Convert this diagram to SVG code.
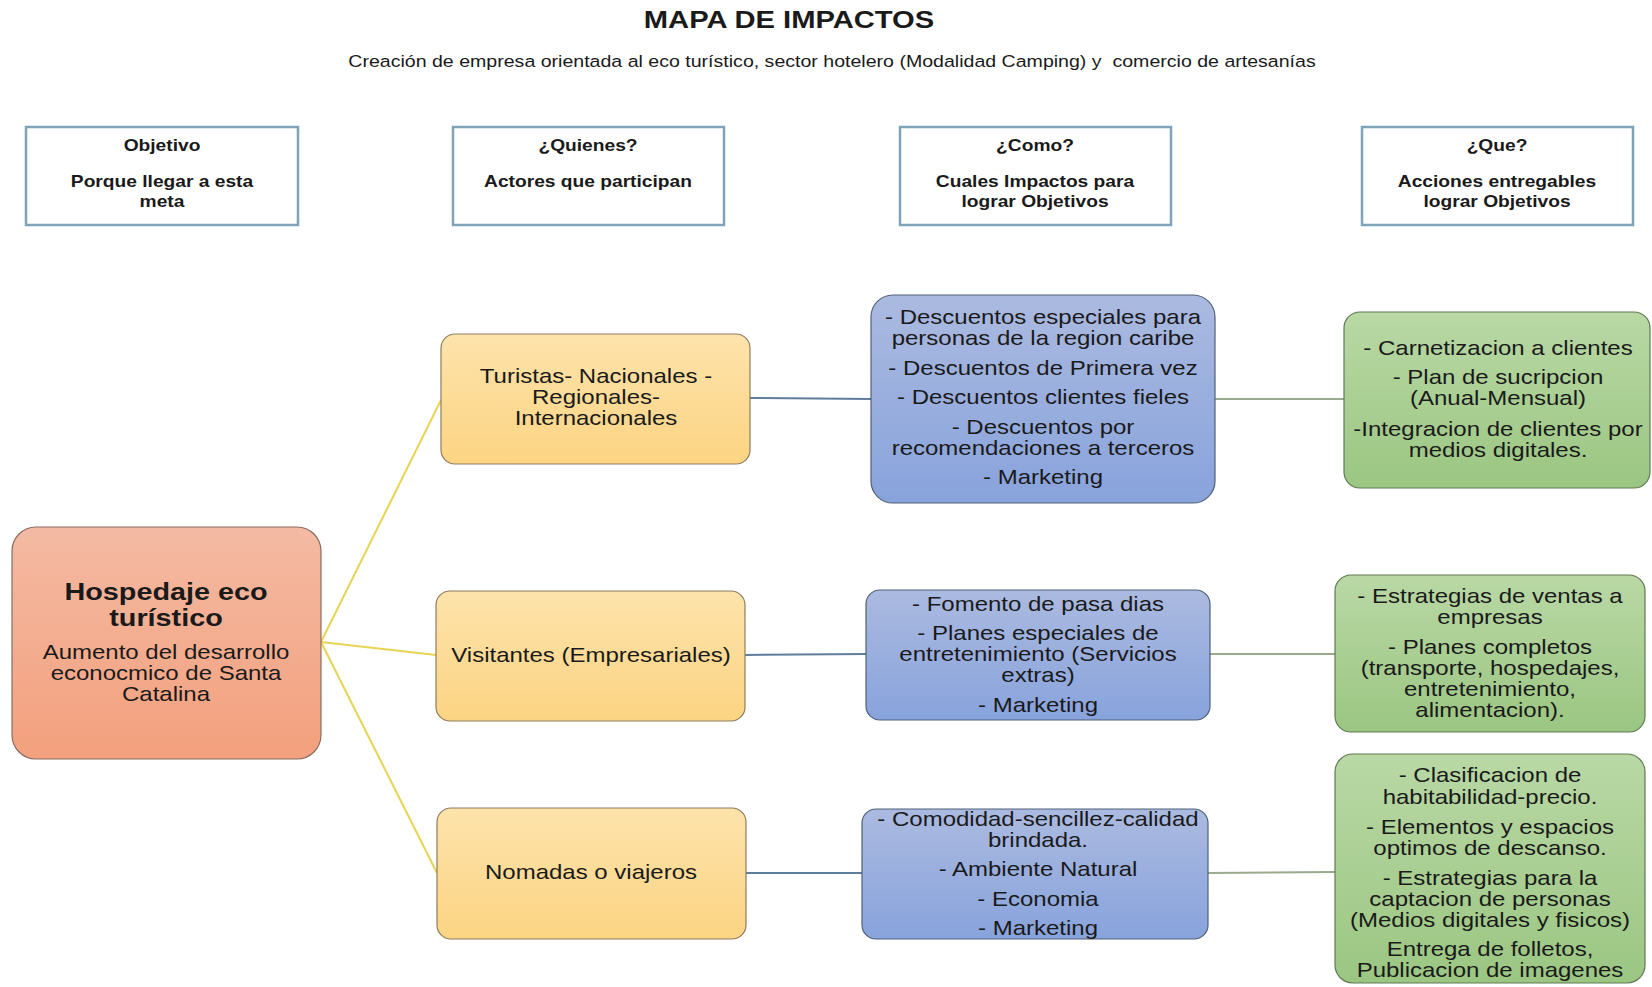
<svg xmlns="http://www.w3.org/2000/svg" width="1652" height="987" viewBox="0 0 1652 987">
<defs>
<linearGradient id="gSalmon" x1="0" y1="0" x2="0" y2="1"><stop offset="0" stop-color="#f4baa3"/><stop offset="1" stop-color="#f3a07d"/></linearGradient>
<linearGradient id="gYellow" x1="0" y1="0" x2="0" y2="1"><stop offset="0" stop-color="#fde3ab"/><stop offset="1" stop-color="#fcd483"/></linearGradient>
<linearGradient id="gBlue" x1="0" y1="0" x2="0" y2="1"><stop offset="0" stop-color="#abbae0"/><stop offset="1" stop-color="#88a3dc"/></linearGradient>
<linearGradient id="gGreen" x1="0" y1="0" x2="0" y2="1"><stop offset="0" stop-color="#b9d8a5"/><stop offset="1" stop-color="#9bc682"/></linearGradient>
<style>
text{font-family:"Liberation Sans",Arial,sans-serif;fill:#1a1a1a;text-anchor:middle}
.title{font-size:24.3px;font-weight:bold}
.sub{font-size:16.3px;white-space:pre}
.hdr{font-size:16px;font-weight:bold}
.t{font-size:20px}
.tb{font-size:24px;font-weight:bold}
.hbox{fill:#fff;stroke:#7ea3b8;stroke-width:2.5}
.salmon{fill:url(#gSalmon);stroke:#8a6d62;stroke-width:1.2}
.yellow{fill:url(#gYellow);stroke:#8c7d5e;stroke-width:1.2}
.blue{fill:url(#gBlue);stroke:#4f6179;stroke-width:1.2}
.green{fill:url(#gGreen);stroke:#5f7a53;stroke-width:1.2}
.cy{stroke:#e6d452;stroke-width:2;fill:none}
.cb{stroke:#5f7d9c;stroke-width:2;fill:none}
.cg{stroke:#9aab8d;stroke-width:2;fill:none}
</style>
</defs>
<rect width="1652" height="987" fill="#ffffff"/>

<g id="title">
<g transform="translate(789 0) scale(1.2 1)"><text class="title" x="0" y="28">MAPA DE IMPACTOS</text></g>
<g transform="translate(832 0) scale(1.2 1)"><text class="sub" x="0" y="67" xml:space="preserve">Creación de empresa orientada al eco turístico, sector hotelero (Modalidad Camping) y  comercio de artesanías</text></g>
</g>

<g id="hdr-objetivo">
<rect class="hbox" x="26" y="127" width="272" height="98"/>
<g transform="translate(162 0) scale(1.2 1)"><text class="hdr" x="0" y="151">Objetivo</text><text class="hdr" x="0" y="187">Porque llegar a esta</text><text class="hdr" x="0" y="207">meta</text></g>
</g>
<g id="hdr-quienes">
<rect class="hbox" x="453" y="127" width="271" height="98"/>
<g transform="translate(588 0) scale(1.2 1)"><text class="hdr" x="0" y="151">¿Quienes?</text><text class="hdr" x="0" y="187">Actores que participan</text></g>
</g>
<g id="hdr-como">
<rect class="hbox" x="900" y="127" width="271" height="98"/>
<g transform="translate(1035 0) scale(1.2 1)"><text class="hdr" x="0" y="151">¿Como?</text><text class="hdr" x="0" y="187">Cuales Impactos para</text><text class="hdr" x="0" y="207">lograr Objetivos</text></g>
</g>
<g id="hdr-que">
<rect class="hbox" x="1362" y="127" width="271" height="98"/>
<g transform="translate(1497 0) scale(1.2 1)"><text class="hdr" x="0" y="151">¿Que?</text><text class="hdr" x="0" y="187">Acciones entregables</text><text class="hdr" x="0" y="207">lograr Objetivos</text></g>
</g>

<g id="connectors">
<line class="cy" x1="321" y1="642" x2="441" y2="400"/>
<line class="cy" x1="321" y1="642" x2="436" y2="655"/>
<line class="cy" x1="321" y1="642" x2="437" y2="873"/>
<line class="cb" x1="750" y1="398" x2="871" y2="399"/>
<line class="cb" x1="745" y1="655" x2="866" y2="654"/>
<line class="cb" x1="746" y1="873" x2="862" y2="873"/>
<line class="cg" x1="1215" y1="399" x2="1344" y2="399"/>
<line class="cg" x1="1210" y1="654" x2="1335" y2="654"/>
<line class="cg" x1="1208" y1="873" x2="1335" y2="872"/>
</g>

<g id="hospedaje">
<rect class="salmon" x="12" y="527" width="309" height="232" rx="24"/>
<g transform="translate(166 0) scale(1.2 1)">
<text class="tb" x="0" y="600">Hospedaje eco</text>
<text class="tb" x="0" y="626">turístico</text>
<text class="t" x="0" y="659">Aumento del desarrollo</text>
<text class="t" x="0" y="680">econocmico de Santa</text>
<text class="t" x="0" y="701">Catalina</text>
</g>
</g>

<g id="turistas">
<rect class="yellow" x="441" y="334" width="309" height="130" rx="14"/>
<g transform="translate(596 0) scale(1.2 1)">
<text class="t" x="0" y="383">Turistas- Nacionales -</text>
<text class="t" x="0" y="404">Regionales-</text>
<text class="t" x="0" y="425">Internacionales</text>
</g>
</g>
<g id="visitantes">
<rect class="yellow" x="436" y="591" width="309" height="130" rx="14"/>
<g transform="translate(591 0) scale(1.2 1)"><text class="t" x="0" y="662">Visitantes (Empresariales)</text></g>
</g>
<g id="nomadas">
<rect class="yellow" x="437" y="808" width="309" height="131" rx="14"/>
<g transform="translate(591 0) scale(1.2 1)"><text class="t" x="0" y="879">Nomadas o viajeros</text></g>
</g>

<g id="como-1">
<rect class="blue" x="871" y="295" width="344" height="208" rx="22"/>
<g transform="translate(1043 0) scale(1.2 1)">
<text class="t" x="0" y="324">- Descuentos especiales para</text>
<text class="t" x="0" y="345">personas de la region caribe</text>
<text class="t" x="0" y="375">- Descuentos de Primera vez</text>
<text class="t" x="0" y="404">- Descuentos clientes fieles</text>
<text class="t" x="0" y="434">- Descuentos por</text>
<text class="t" x="0" y="455">recomendaciones a terceros</text>
<text class="t" x="0" y="484">- Marketing</text>
</g>
</g>
<g id="como-2">
<rect class="blue" x="866" y="590" width="344" height="130" rx="14"/>
<g transform="translate(1038 0) scale(1.2 1)">
<text class="t" x="0" y="611">- Fomento de pasa dias</text>
<text class="t" x="0" y="640">- Planes especiales de</text>
<text class="t" x="0" y="661">entretenimiento (Servicios</text>
<text class="t" x="0" y="682">extras)</text>
<text class="t" x="0" y="712">- Marketing</text>
</g>
</g>
<g id="como-3">
<rect class="blue" x="862" y="809" width="346" height="130" rx="14"/>
<g transform="translate(1038 0) scale(1.2 1)">
<text class="t" x="0" y="826">- Comodidad-sencillez-calidad</text>
<text class="t" x="0" y="847">brindada.</text>
<text class="t" x="0" y="876">- Ambiente Natural</text>
<text class="t" x="0" y="906">- Economia</text>
<text class="t" x="0" y="935">- Marketing</text>
</g>
</g>

<g id="que-1">
<rect class="green" x="1344" y="312" width="306" height="176" rx="16"/>
<g transform="translate(1498 0) scale(1.2 1)">
<text class="t" x="0" y="355">- Carnetizacion a clientes</text>
<text class="t" x="0" y="384">- Plan de sucripcion</text>
<text class="t" x="0" y="405">(Anual-Mensual)</text>
<text class="t" x="0" y="436">-Integracion de clientes por</text>
<text class="t" x="0" y="457">medios digitales.</text>
</g>
</g>
<g id="que-2">
<rect class="green" x="1335" y="575" width="310" height="157" rx="16"/>
<g transform="translate(1490 0) scale(1.2 1)">
<text class="t" x="0" y="603">- Estrategias de ventas a</text>
<text class="t" x="0" y="624">empresas</text>
<text class="t" x="0" y="654">- Planes completos</text>
<text class="t" x="0" y="675">(transporte, hospedajes,</text>
<text class="t" x="0" y="696">entretenimiento,</text>
<text class="t" x="0" y="717">alimentacion).</text>
</g>
</g>
<g id="que-3">
<rect class="green" x="1335" y="754" width="310" height="229" rx="18"/>
<g transform="translate(1490 0) scale(1.2 1)">
<text class="t" x="0" y="782">- Clasificacion de</text>
<text class="t" x="0" y="804">habitabilidad-precio.</text>
<text class="t" x="0" y="834">- Elementos y espacios</text>
<text class="t" x="0" y="855">optimos de descanso.</text>
<text class="t" x="0" y="885">- Estrategias para la</text>
<text class="t" x="0" y="906">captacion de personas</text>
<text class="t" x="0" y="927">(Medios digitales y fisicos)</text>
<text class="t" x="0" y="956">Entrega de folletos,</text>
<text class="t" x="0" y="977">Publicacion de imagenes</text>
</g>
</g>
</svg>
